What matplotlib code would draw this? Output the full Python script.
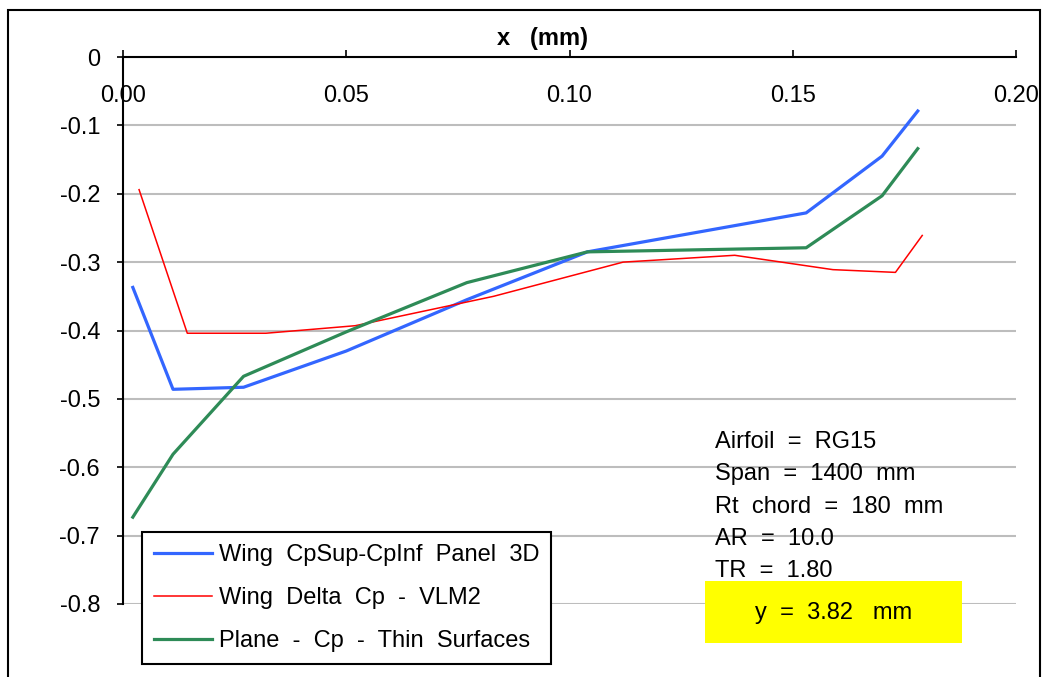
import matplotlib
matplotlib.use("Agg")
import matplotlib.pyplot as plt
from matplotlib.patches import Rectangle

plt.rcParams['font.family'] = ['Liberation Sans', 'DejaVu Sans']

# ---- data ----
panel_x = [0.0022, 0.0112, 0.027, 0.050, 0.077, 0.104, 0.153, 0.170, 0.178]
panel_cp = [-0.337, -0.486, -0.483, -0.430, -0.355, -0.285, -0.228, -0.145, -0.079]

vlm_x = [0.0036, 0.0144, 0.032, 0.052, 0.083, 0.112, 0.137, 0.159, 0.173, 0.179]
vlm_cp = [-0.194, -0.404, -0.404, -0.393, -0.350, -0.300, -0.290, -0.311, -0.315, -0.261]

thin_x = [0.0022, 0.0112, 0.027, 0.050, 0.077, 0.104, 0.153, 0.170, 0.178]
thin_cp = [-0.673, -0.581, -0.467, -0.402, -0.330, -0.285, -0.279, -0.203, -0.134]

series_labels = ["Wing  CpSup-CpInf  Panel  3D", "Wing  Delta  Cp  -  VLM2", "Plane  -  Cp  -  Thin  Surfaces"]
x_ticks = [0.0, 0.05, 0.10, 0.15, 0.20]
x_tick_labels = ["0.00", "0.05", "0.10", "0.15", "0.20"]
y_ticks = [0.0, -0.1, -0.2, -0.3, -0.4, -0.5, -0.6, -0.7, -0.8]
y_tick_labels = ["0", "-0.1", "-0.2", "-0.3", "-0.4", "-0.5", "-0.6", "-0.7", "-0.8"]
info_lines = ["Airfoil  =  RG15", "Span  =  1400  mm", "Rt  chord  =  180  mm", "AR  =  10.0", "TR  =  1.80"]
station_label = "y  =  3.82   mm"

FS = 17

# ---- figure ----
W, H = 1050, 677
fig = plt.figure(figsize=(W / 100, H / 100), dpi=100)
ax = fig.add_axes([123 / W, 1 - 604 / H, (1016 - 123) / W, (604 - 57) / H])

ax.plot(panel_x, panel_cp, color='#3366FF', lw=2.3, label=series_labels[0], solid_joinstyle='round')
ax.plot(vlm_x, vlm_cp, color='#FF0000', lw=1.1, label=series_labels[1])
ax.plot(thin_x, thin_cp, color='#2E8B57', lw=2.3, label=series_labels[2], solid_joinstyle='round')

ax.set_xlim(0, 0.2)
ax.set_ylim(-0.8, 0)
ax.set_xticks(x_ticks)
ax.set_xticklabels(x_tick_labels)
ax.set_yticks(y_ticks)
ax.set_yticklabels(y_tick_labels)

ax.xaxis.tick_top()
ax.tick_params(axis='x', direction='out', length=5, width=1.2, pad=-41, labelsize=FS, colors='black')
ax.tick_params(axis='y', direction='out', length=4.5, width=1.2, pad=12, labelsize=FS)

ax.xaxis.set_label_position('top')
ax.set_xlabel('x   (mm)', fontsize=FS, fontweight='bold')
ax.xaxis.set_label_coords(0.47, 1.022)

ax.yaxis.grid(True, color='#BDBDBD', lw=1.5)
ax.set_axisbelow(True)
for s in ['right', 'bottom']:
    ax.spines[s].set_visible(False)
for s in ['top', 'left']:
    ax.spines[s].set_linewidth(1.5)
    ax.spines[s].set_color('black')

leg = ax.legend(loc='upper left', bbox_to_anchor=(142 / W, 1 - 532 / H), bbox_transform=fig.transFigure,
                borderaxespad=0, fontsize=FS, frameon=True, fancybox=False, framealpha=1,
                handlelength=2.45, handletextpad=0.3, labelspacing=0.9, borderpad=0.5)
leg.get_frame().set_edgecolor('black')
leg.get_frame().set_linewidth(1.5)

ax.text(715 / W, 1 - 431 / H, "\n".join(info_lines), transform=fig.transFigure,
        fontsize=FS, va='top', ha='left', linespacing=1.61)

fig.patches.append(Rectangle((705 / W, 1 - 643 / H), (962 - 705) / W, (643 - 581) / H,
                             transform=fig.transFigure, facecolor='#FFFF00', edgecolor='none', zorder=5))
fig.text(834 / W, 1 - 613 / H, station_label, fontsize=FS, ha='center', va='center', zorder=6)

fig.patches.append(Rectangle((8 / W, -0.05), (1040 - 8) / W, 1.05 - 10 / H,
                             transform=fig.transFigure, facecolor='none', edgecolor='black', lw=1.5))

fig.savefig('out.png', dpi=100)
